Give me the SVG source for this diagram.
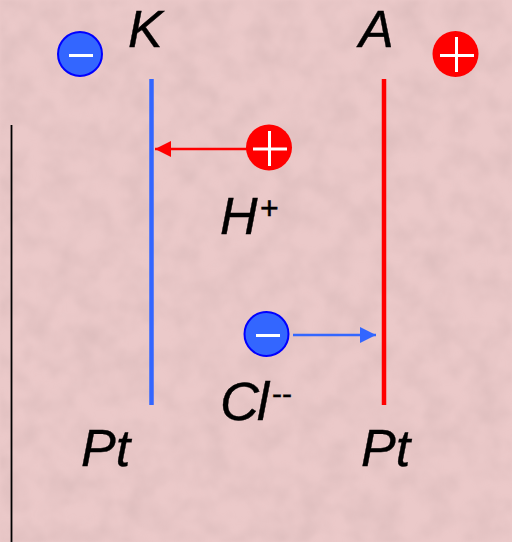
<svg xmlns="http://www.w3.org/2000/svg" width="512" height="542" viewBox="0 0 512 542">
<style>
.t{font-family:"Liberation Sans",Arial,sans-serif;font-style:italic;fill:#000;stroke:#000;stroke-width:.4;font-size:52px}
.s{font-family:"Liberation Sans",Arial,sans-serif;fill:#000}
.neg{fill:#3366ff;stroke:#0000ff;stroke-width:2}
.pos{fill:#ff0000}
.mark{stroke:#fff;stroke-width:3;fill:none}
</style>
<defs>
<filter id="tex" x="0" y="0" width="100%" height="100%">
<feTurbulence type="fractalNoise" baseFrequency="0.04" numOctaves="3" seed="7"/>
<feColorMatrix values="0 0 0 0 0.6  0 0 0 0 0.42  0 0 0 0 0.42  0.7 0 0 0 -0.24"/>
<feGaussianBlur stdDeviation="1.5"/>
</filter>
<marker id="ar" markerWidth="16" markerHeight="16" refX="16" refY="8" orient="auto" markerUnits="userSpaceOnUse"><path d="M0 0L16 8L0 16Z" fill="#ff0000"/></marker>
<marker id="ab" markerWidth="16" markerHeight="16" refX="16" refY="8" orient="auto" markerUnits="userSpaceOnUse"><path d="M0 0L16 8L0 16Z" fill="#3366ff"/></marker>
</defs>
<rect width="512" height="542" fill="#ebc9c9"/>
<rect width="512" height="542" filter="url(#tex)"/>
<g id="connectors">
<line x1="247" y1="149" x2="155" y2="149" stroke="#ff0000" stroke-width="2.5" marker-end="url(#ar)"/>
<line x1="293" y1="335" x2="376" y2="335" stroke="#3366ff" stroke-width="2.5" marker-end="url(#ab)"/>
</g>
<line id="left-line" x1="11.500" y1="125" x2="11.500" y2="542" stroke="#000" stroke-width="1.800"/>
<g id="cathode">
<line x1="151.500" y1="79" x2="151.500" y2="405" stroke="#3366ff" stroke-width="4.500"/>
<text class="t" x="128" y="47.200">K</text>
<text class="t" x="81" y="466">Pt</text>
</g>
<g id="anode">
<line x1="384" y1="79" x2="384" y2="405" stroke="#ff0000" stroke-width="4.500"/>
<text class="t" x="359" y="47.200">A</text>
<text class="t" x="361" y="466">Pt</text>
</g>
<g id="cathode-charge">
<circle class="neg" cx="80" cy="54" r="22"/>
<path class="mark" d="M69 55.500H93"/>
</g>
<g id="anode-charge">
<circle class="pos" cx="455.500" cy="54" r="23"/>
<path class="mark" d="M440 55.500H474M456.500 37V72"/>
</g>
<g id="h-ion">
<circle class="pos" cx="269" cy="147.500" r="23"/>
<path class="mark" d="M253 149H287M269.500 131V166"/>
<text class="t" x="220" y="234">H</text>
<text class="s" x="260" y="219" font-size="32" stroke="#000" stroke-width=".5">+</text>
</g>
<g id="cl-ion">
<circle class="neg" cx="266.500" cy="334" r="22"/>
<path class="mark" d="M256 335.500H280"/>
<text class="t" x="220" y="420" style="font-size:54px;letter-spacing:-2px">Cl</text>
<text class="s" x="272" y="404" font-size="30" stroke="#000" stroke-width=".4">--</text>
</g>
</svg>
